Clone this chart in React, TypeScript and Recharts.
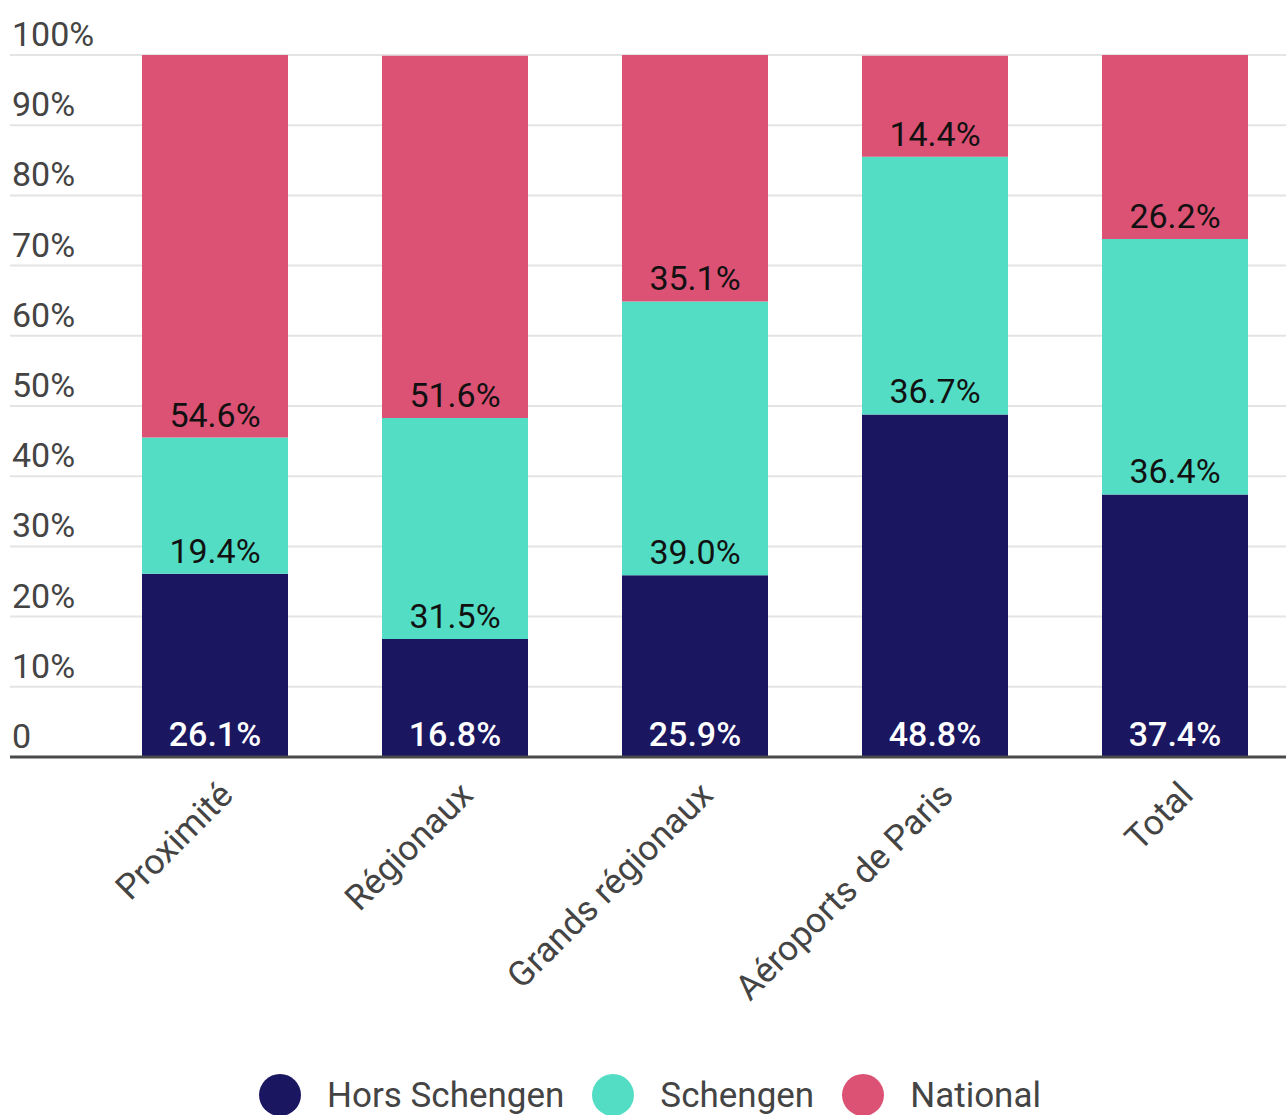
import {
  Bar,
  BarChart,
  CartesianGrid,
  LabelList,
  XAxis,
  YAxis,
} from "recharts";

const FONT = "Roboto, 'Noto Sans', sans-serif";
const AXIS_TEXT = "#444444";
const PLOT_TOP = 55;
const PLOT_BOTTOM = 757;
const CHART_H = 1115;
const X_AXIS_H = 60;

const categories = [
  "Proximité",
  "Régionaux",
  "Grands régionaux",
  "Aéroports de Paris",
  "Total",
];
const horsSchengen = [26.1, 16.8, 25.9, 48.8, 37.4];
const schengen = [19.4, 31.5, 39.0, 36.7, 36.4];
const national = [54.6, 51.6, 35.1, 14.4, 26.2];
const yTicks = [0, 10, 20, 30, 40, 50, 60, 70, 80, 90, 100];

const series = [
  { key: "hors", name: "Hors Schengen", color: "#1a1660", labelColor: "#ffffff", weight: 500 },
  { key: "schengen", name: "Schengen", color: "#52ddc4", labelColor: "#111111", weight: 400 },
  { key: "national", name: "National", color: "#db5275", labelColor: "#111111", weight: 400 },
];

const data = categories.map((name, i) => ({
  name,
  hors: horsSchengen[i],
  schengen: schengen[i],
  national: national[i],
}));

const YTick = ({ y, payload }: any) => (
  <text
    x={12}
    y={y - 9}
    textAnchor="start"
    fontFamily={FONT}
    fontSize={34}
    fill={AXIS_TEXT}
  >
    {payload.value === 0 ? "0" : `${payload.value}%`}
  </text>
);

const XTick = ({ x, payload }: any) => (
  <text
    transform={`translate(${x + 20}, ${PLOT_BOTTOM + 40}) rotate(-45)`}
    textAnchor="end"
    fontFamily={FONT}
    fontSize={35}
    fill={AXIS_TEXT}
  >
    {payload.value}
  </text>
);

const segmentLabel =
  (color: string, weight: number) =>
  ({ x, y, width, height, value }: any) => (
    <text
      x={x + width / 2}
      y={y + height - 11}
      textAnchor="middle"
      fontFamily={FONT}
      fontSize={34}
      fontWeight={weight}
      fill={color}
    >
      {Number(value).toFixed(1)}%
    </text>
  );

const Legend = () => (
  <div
    style={{
      position: "absolute",
      left: 0,
      top: 1074,
      width: 1300,
      display: "flex",
      justifyContent: "center",
      alignItems: "center",
      fontFamily: FONT,
      fontSize: 35,
      color: AXIS_TEXT,
    }}
  >
    {series.map((s, i) => (
      <div
        key={s.key}
        style={{
          display: "flex",
          alignItems: "center",
          marginLeft: i === 0 ? 0 : 28,
        }}
      >
        <span
          style={{
            width: 42,
            height: 42,
            borderRadius: "50%",
            backgroundColor: s.color,
            marginRight: 26,
          }}
        />
        <span>{s.name}</span>
      </div>
    ))}
  </div>
);

export default function App() {
  return (
    <div
      style={{
        position: "absolute",
        left: 0,
        top: 0,
        width: 1286,
        height: CHART_H,
        overflow: "hidden",
        background: "#ffffff",
      }}
    >
      <BarChart
        width={1300}
        height={CHART_H}
        data={data}
        margin={{
          top: PLOT_TOP,
          right: 0,
          left: 9,
          bottom: CHART_H - PLOT_BOTTOM - X_AXIS_H,
        }}
        barSize={146}
      >
        <CartesianGrid vertical={false} stroke="#e4e4e4" strokeWidth={2} />
        <YAxis
          width={1}
          domain={[0, 100]}
          ticks={yTicks}
          allowDataOverflow
          axisLine={false}
          tickLine={false}
          tick={<YTick />}
        />
        <XAxis
          dataKey="name"
          height={X_AXIS_H}
          padding={{ left: 85, right: 5 }}
          axisLine={{ stroke: "#4a4a4a", strokeWidth: 3 }}
          tickLine={false}
          interval={0}
          tick={<XTick />}
        />
        {series.map((s) => (
          <Bar
            key={s.key}
            dataKey={s.key}
            name={s.name}
            stackId="a"
            fill={s.color}
            isAnimationActive={false}
          >
            <LabelList
              dataKey={s.key}
              content={segmentLabel(s.labelColor, s.weight)}
            />
          </Bar>
        ))}
      </BarChart>
      <Legend />
    </div>
  );
}
